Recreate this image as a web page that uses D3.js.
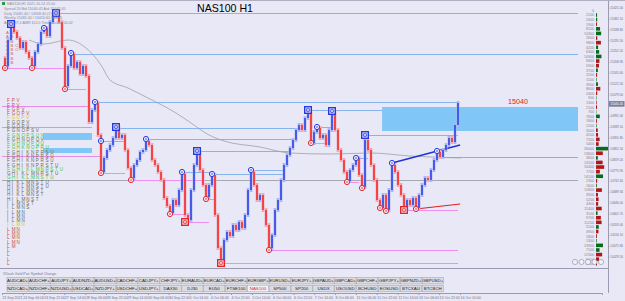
<!DOCTYPE html>
<html>
<head>
<meta charset="utf-8">
<script src="https://cdnjs.cloudflare.com/ajax/libs/d3/7.8.5/d3.min.js"></script>
<style>
    body { margin: 0; background: #e8e8f6; }
    #chart { width: 625px; height: 301px; }
    svg text { font-family: "Liberation Sans", Arial, sans-serif; }
</style>
</head>
<body>
<div id="chart"></div>
<script>
// ---- data (hourly closes) ----
const closes = [
    15224,15192,15296,15364,15328,15304,15264,15288,15248,15224,
    15192,15248,15280,15328,15344,15312,15368,15392,15412,15368,
    15264,15112,15192,15240,15184,15208,15160,15192,15152,14968,
    15016,15044,14916,14768,14824,14856,14876,14904,14944,14904,
    14916,14856,14784,14744,14796,14816,14848,14856,14892,14876,
    14816,14796,14768,14736,14664,14632,14604,14656,14636,14696,
    14760,14596,14576,14696,14796,14848,14776,14716,14668,14716,
    14756,14596,14464,14416,14496,14528,14512,14556,14536,14568,
    14544,14596,14696,14768,14716,14656,14676,14616,14556,14464,
    14516,14616,14656,14736,14796,14836,14864,14896,14936,14956,
    14936,14984,15012,14884,14928,14944,14904,14916,14876,14936,
    15008,14936,14856,14816,14768,14732,14776,14796,14824,14756,
    14708,14896,14856,14796,14736,14656,14624,14676,14616,14696,
    14796,14768,14716,14676,14620,14656,14636,14664,14624,14676,
    14716,14744,14736,14776,14816,14848,14828,14856,14876,14904,
    14888,14956,15044
];

// swing markers [bar, price]
const highBoxes = [[3,15360],[18,15404],[38,14948],[65,14852],[102,15016],[110,15012],[121,14916]];
const highDots = [[14,15344],[23,15244],[31,15048],[33,14892],[48,14900],[60,14768],[70,14760],[83,14776],[105,14948],[118,14824],[130,14804],[145,14852]];
const lowDots = [[1,15184],[10,15184],[21,15100],[33,14764],[43,14736],[56,14600],[68,14660],[89,14456],[103,14884],[115,14728],[120,14704],[126,14624],[128,14612],[138,14620]];
const lowBoxes = [[61,14568],[73,14404],[134,14616]];

// level lines [fromBar, toBar, price]
const resistLines = [[18,192,15404],[23,192,15240],[31,152,15048],[38,100,14944],[33,41,14892],[48,97,14900],[65,96,14852],[60,70,14768],[70,94,14760],[83,94,14776],[102,127,15016],[105,110,14948],[121,152,14916],[118,122,14824]];
const supportLines = [[1,21,15184],[21,28,15100],[33,41,14764],[43,68,14736],[56,61,14600],[61,69,14568],[68,71,14660],[73,152,14404],[89,152,14456],[103,109,14884],[115,119,14728],[134,152,14616]];
const tpoLines = [[0,29,15032],[0,30,14948],[0,33,14832]];
const grayLines = [[0,192,14736],[146,192,14828]];
const trendUp = [[130,14804],[152.7,14876]];
const trendDown = [[138,14620],[152.7,14640]];
// zones [fromBar, toBar, top, bottom]
const zones = [[126.7,192,15028,14932],[13.7,30,14924,14896],[13.7,30,14864,14844]];

// moving average
const maBars = [9,14,22,28,33,36,42,48,52,58,63,69,74,86,96,109,123,136,153];
const maValues = [15296,15280,15296,15264,15196,15136,15104,15068,15044,15004,14964,14916,14892,14868,14844,14840,14844,14832,14824];

// TPO profile rows (top to bottom) and their colour class
const tpoRows = ["F P V","F P V","F G P V","F G O P V","F G O P V","F G O P V","F G O P V","F G N O P S V",
    "F G N O P S U V","F G H N O P Q V","F G H N O P Q U","F G H K N O P R U","F G H I K N P R S U","F G H I K N P R S U",
    "F G H I K N P R S U","F G H I K N P R S T U","F G H I K L M N R S T U","G H I K L M N R S T U","G H I K L M N S T U",
    "H I K L M N S T U","H I K L M N S T U","H I K L M N S T","H I K L M N S T","H I L M N S T","I L M N S T","I L M N S",
    "I L M N","I L M N","I L M N","I L M N","L M N","L M N","L M N","L M N","L M","L","L","L","L"];
const tpoKinds = ["r","r","r","r","y","d","d","d","g","d","g","g","d","d","d","d","g","d","g","d","d","d","d","d","d","d",
    "d","d","d","y","r","r","r","r","r","r","r","r","r"];
const oldTpoRows = ["A B","A B","A B","A B C","A B C","A B","A B","A B","A"];

// volume profile (right side)
const volValues = [0,2100,2400,1900,8100,10300,2600,9800,4200,6300,10900,6800,5900,3700,2200,1100,3900,8600,2400,900,
    1300,2100,700,7600,1800,1200,3500,4100,7200,5400,26000,13600,3600,13200,16400,7700,14100,2300,1600,11800,
    3900,5200,4300,11400,3100,9700,11200,5500,4900,1800,1300,13900,7100,12300,6100,2000];
const volSide = ["b","b","b","s","b","b","s","s","b","b","b","s","s","b","s","b","b","s","s","b",
    "s","s","b","b","s","b","s","s","s","s","b","s","b","s","s","s","b","s","b","s",
    "s","s","s","s","b","s","s","b","s","s","b","b","b","s","s","s"];

// price axis
const priceTicks = [15425.4,15382.1,15338.8,15295.5,15252.2,15208.9,15165.6,15122.3,15079.0,14992.4,14949.1,14905.8,
    14862.5,14819.2,14775.9,14732.6,14689.3,14646.0,14602.7,14559.4,14516.1,14472.8,14429.5];
const lastPrice = 15040.45;

// time axis
const dateBars = [0,6.9,13.9,20.8,27.8,34.7,41.6,48.6,55.5,62.5,69.4,76.3,83.3,90.2,97.2,104.1,111,118,124.9,131.9,138.8,145.7,152.7];
const dateLabels = ["21 Sep 2021","24 Sep 06:00","24 Sep 22:00","27 Sep 14:00","28 Sep 06:00","28 Sep 22:00","29 Sep 14:00",
    "30 Sep 06:00","30 Sep 22:00","1 Oct 14:00","4 Oct 06:00","4 Oct 22:00","5 Oct 14:00","6 Oct 06:00","6 Oct 22:00",
    "7 Oct 14:00","8 Oct 06:00","11 Oct 06:00","11 Oct 22:00","12 Oct 14:00","13 Oct 06:00","13 Oct 22:00","14 Oct 14:00"];

// symbol buttons
const symbolsTop = ["AUDCAD+","AUDCHF+","AUDJPY+","AUDNZD+","AUDUSD+","CADCHF+","CADJPY+","CHFJPY+","EURAUD+","EURCAD+",
    "EURCHF+","EURGBP+","EURUSD+","EURJPY+","GBPAUD+","GBPCAD+","GBPCHF+","GBPJPY+","GBPNZD+","GBPUSD+"];
const symbolsBottom = ["NZDCAD+","NZDCHF+","NZDUSD+","USDCAD+","NZDJPY+","USDCHF+","USDJPY+","DAX30","DJ30","EU50",
    "FTSE100","NAS100","SP500","SP200","USDX","USOUSD","BCHUSD","EOSUSD","BTCXAU","BTCBCH"];
const activeSymbol = "NAS100";

const infoLines = ["NAS100,H1  2021.10.14 15:00","Spread 20  Bid 15040.45  Ask 15042.45","Daily 15081.40 / 14908.40  (173.0)",
    "Weekly 15081.40 / 14416.60  (664.8)","ADR 187.4  AWR 612.0  Time to close 00:42"];

/* * * * * * * * * * * * * *
*          PriceVis        *
* * * * * * * * * * * * * */

class PriceVis {

    constructor(parentElement) {
        this.parentElement = parentElement;
        this.initVis();
    }

    initVis() {
        let vis = this;

        vis.width = 625;
        vis.height = 301;
        vis.axisX = 608;

        vis.svg = d3.select("#" + vis.parentElement).append("svg")
            .attr("width", vis.width)
            .attr("height", vis.height);

        vis.svg.append("rect")
            .attr("width", vis.width)
            .attr("height", vis.height)
            .attr("fill", "#e8e8f6");

        vis.x = d3.scaleLinear().domain([0, 200]).range([2, 602]);
        vis.y = d3.scaleLinear().domain([14400, 15456]).range([264, 0]);

        vis.plot = vis.svg.append("g");

        vis.drawLevels();
        vis.drawProfile();
        vis.drawCandles();
        vis.drawMarkers();
        vis.drawVolume();
        vis.drawAxes();
        vis.drawPanel();
        vis.drawTexts();
    }

    drawLevels() {
        let vis = this;

        vis.plot.selectAll(".zone")
            .data(zones)
            .enter().append("rect")
            .attr("x", d => vis.x(d[0]))
            .attr("y", d => vis.y(d[2]))
            .attr("width", d => vis.x(d[1]) - vis.x(d[0]))
            .attr("height", d => vis.y(d[3]) - vis.y(d[2]))
            .attr("fill", "#80c6f6");

        let hline = (data, color, width) => {
            vis.plot.append("g").selectAll("line")
                .data(data)
                .enter().append("line")
                .attr("x1", d => vis.x(d[0]))
                .attr("x2", d => vis.x(d[1]))
                .attr("y1", d => Math.round(vis.y(d[2])) + 0.5)
                .attr("y2", d => Math.round(vis.y(d[2])) + 0.5)
                .attr("stroke", color)
                .attr("stroke-width", width);
        };
        hline(grayLines, "#a8a8b0", 1);
        hline(tpoLines, "#e58ce5", 1);
        hline(resistLines, "#86b4ee", 1);
        hline(supportLines, "#ee8ef0", 1);

        let ma = d3.line().x((d, i) => vis.x(d)).y((d, i) => vis.y(maValues[i])).curve(d3.curveMonotoneX);
        vis.plot.append("path")
            .attr("d", ma(maBars))
            .attr("fill", "none")
            .attr("stroke", "#a0a0a8")
            .attr("stroke-width", 0.8);

        let tl = d3.line().x(d => vis.x(d[0])).y(d => vis.y(d[1]));
        vis.plot.append("path").attr("d", tl(trendUp))
            .attr("stroke", "#1f30d8").attr("stroke-width", 1.3).attr("fill", "none");
        vis.plot.append("path").attr("d", tl(trendDown))
            .attr("stroke", "#e02020").attr("stroke-width", 1.1).attr("fill", "none");
    }

    drawProfile() {
        let vis = this;
        let colors = {r: "#c8504a", y: "#d4d400", g: "#38c838", d: "#6a6a55"};

        vis.rowY = d3.scaleBand().domain(d3.range(tpoRows.length)).range([98, 265]);

        tpoRows.forEach((row, r) => {
            row.split(" ").forEach((ch, j) => {
                vis.plot.append("text")
                    .attr("x", 7 + j * 4.8)
                    .attr("y", vis.rowY(r) + vis.rowY.bandwidth())
                    .attr("font-size", 4.6)
                    .attr("fill", colors[tpoKinds[r]])
                    .text(ch);
            });
        });

        let oldY = d3.scaleBand().domain(d3.range(oldTpoRows.length)).range([30, 68]);
        oldTpoRows.forEach((row, r) => {
            row.split(" ").forEach((ch, j) => {
                vis.plot.append("text")
                    .attr("x", 6 + j * 4.6)
                    .attr("y", oldY(r) + oldY.bandwidth())
                    .attr("font-size", 4.2)
                    .attr("fill", "#c86060")
                    .text(ch);
            });
        });
    }

    drawCandles() {
        let vis = this;
        let bars = closes.slice(1).map((c, i) => ({i: i + 1, o: closes[i], c: c}));

        let g = vis.plot.append("g");
        g.selectAll(".halo")
            .data(bars)
            .enter().append("rect")
            .attr("x", d => vis.x(d.i) - 1.4)
            .attr("width", 2.8)
            .attr("y", d => vis.y(Math.max(d.o, d.c)) - 2)
            .attr("height", d => Math.abs(vis.y(d.o) - vis.y(d.c)) + 4)
            .attr("fill", d => d.c >= d.o ? "#a9b8f0" : "#f3a9b2");

        g.selectAll(".body")
            .data(bars)
            .enter().append("rect")
            .attr("x", d => vis.x(d.i) - 0.7)
            .attr("width", 1.4)
            .attr("y", d => vis.y(Math.max(d.o, d.c)))
            .attr("height", d => Math.max(1, Math.abs(vis.y(d.o) - vis.y(d.c))))
            .attr("fill", d => d.c >= d.o ? "#1e33e6" : "#f21a1a");
    }

    drawMarkers() {
        let vis = this;

        let boxes = (data, color) => {
            let m = vis.plot.append("g").selectAll("g")
                .data(data)
                .enter().append("g")
                .attr("transform", d => "translate(" + vis.x(d[0]) + "," + vis.y(d[1]) + ")");
            m.append("rect").attr("x", -4).attr("y", -4).attr("width", 8).attr("height", 8)
                .attr("fill", color);
            m.append("rect").attr("x", -2.6).attr("y", -2.6).attr("width", 5.2).attr("height", 5.2)
                .attr("fill", "#f0f0fa");
            m.append("circle").attr("r", 1.8).attr("fill", "none").attr("stroke", color).attr("stroke-width", 0.8);
            m.append("circle").attr("r", 0.6).attr("fill", color);
        };
        let dots = (data, color) => {
            let m = vis.plot.append("g").selectAll("g")
                .data(data)
                .enter().append("g")
                .attr("transform", d => "translate(" + vis.x(d[0]) + "," + vis.y(d[1]) + ")");
            m.append("circle").attr("r", 2.6).attr("fill", "#f0f0fa")
                .attr("stroke", color).attr("stroke-width", 1);
            m.append("circle").attr("r", 0.8).attr("fill", color);
        };

        boxes(highBoxes, "#2638e0");
        boxes(lowBoxes, "#e42428");
        dots(highDots, "#2638e0");
        dots(lowDots, "#e42428");
    }

    drawVolume() {
        let vis = this;

        let rows = d3.scaleBand().domain(d3.range(volValues.length)).range([8, 266]);
        let len = d3.scaleLinear().domain([0, 26000]).range([0, 13]);

        let g = vis.svg.append("g");
        g.selectAll("rect")
            .data(volValues)
            .enter().append("rect")
            .attr("x", 596)
            .attr("y", (d, i) => rows(i) + 0.6)
            .attr("width", d => len(d))
            .attr("height", rows.bandwidth() - 1)
            .attr("fill", (d, i) => volSide[i] === "b" ? "#0b6a1a" : "#b01818");

        g.selectAll("text")
            .data(volValues)
            .enter().append("text")
            .attr("x", 594)
            .attr("y", (d, i) => rows(i) + rows.bandwidth() - 0.8)
            .attr("text-anchor", "end")
            .attr("font-size", 3.6)
            .attr("fill", "#85859a")
            .text(d => d);
    }

    drawAxes() {
        let vis = this;

        // frame
        vis.svg.append("line")
            .attr("x1", vis.axisX + 0.5).attr("x2", vis.axisX + 0.5)
            .attr("y1", 0).attr("y2", 293)
            .attr("stroke", "#9a9ab0");
        vis.svg.append("line")
            .attr("x1", 0).attr("x2", vis.width)
            .attr("y1", 0.5).attr("y2", 0.5)
            .attr("stroke", "#b0b0c4");

        let yAxis = d3.axisRight(vis.y)
            .tickValues(priceTicks)
            .tickFormat(d3.format(".2f"))
            .tickSize(1.5);
        let ya = vis.svg.append("g")
            .attr("transform", "translate(" + vis.axisX + ",0)")
            .call(yAxis);
        ya.select(".domain").remove();
        ya.selectAll("line").attr("stroke", "#9a9ab0");
        ya.selectAll("text").attr("font-size", 3.1).attr("fill", "#70708a").attr("x", 2.2);

        vis.svg.append("rect")
            .attr("x", vis.axisX + 1)
            .attr("y", vis.y(lastPrice) - 2.8)
            .attr("width", 15.5)
            .attr("height", 5.6)
            .attr("fill", "#7e7e98");
        vis.svg.append("text")
            .attr("x", vis.axisX + 2.2)
            .attr("y", vis.y(lastPrice) + 1.2)
            .attr("font-size", 3.1)
            .attr("fill", "white")
            .text(lastPrice.toFixed(2));

        let xAxis = d3.axisBottom(vis.x)
            .tickValues(dateBars)
            .tickFormat((d, i) => dateLabels[i])
            .tickSize(2);
        let xa = vis.svg.append("g")
            .attr("transform", "translate(0,293)")
            .call(xAxis);
        xa.select(".domain").attr("stroke", "#9a9ab0");
        xa.selectAll("line").attr("stroke", "#9a9ab0");
        xa.selectAll("text")
            .attr("font-size", 3.5)
            .attr("fill", "#70708a")
            .attr("text-anchor", "start")
            .attr("y", 4);
    }

    drawPanel() {
        let vis = this;

        vis.svg.append("line")
            .attr("x1", 0).attr("x2", vis.axisX)
            .attr("y1", 268.5).attr("y2", 268.5)
            .attr("stroke", "#9a9ab0");
        vis.svg.append("text")
            .attr("x", 3).attr("y", 274.5)
            .attr("font-size", 3.6)
            .attr("fill", "#7a7a90")
            .text("VDash Gold Pair Symbol Change");

        let drawRow = (names, top) => {
            let b = vis.svg.append("g").selectAll("g")
                .data(names)
                .enter().append("g")
                .attr("transform", (d, i) => "translate(" + (7 + i * 21.85) + "," + top + ")");
            b.append("rect")
                .attr("width", 21.2).attr("height", 6.6)
                .attr("fill", d => d === activeSymbol ? "#f2f2f2" : "#dcdce0")
                .attr("stroke", "#a0a0a8").attr("stroke-width", 0.5);
            b.append("text")
                .attr("x", 10.6).attr("y", 5)
                .attr("text-anchor", "middle")
                .attr("font-size", 4.4)
                .attr("fill", d => d === activeSymbol ? "#e02020" : "#202020")
                .text(d => d);
        };
        drawRow(symbolsTop, 277.3);
        drawRow(symbolsBottom, 285.2);

        // chart zoom buttons
        vis.svg.append("g").selectAll("circle")
            .data(["-", "+", "R", "S", "T"])
            .enter().append("circle")
            .attr("cx", (d, i) => 575 + i * 6.5)
            .attr("cy", 262)
            .attr("r", 2.6)
            .attr("fill", "#f0f0f8")
            .attr("stroke", "#8a8aa0")
            .attr("stroke-width", 0.6);
    }

    drawTexts() {
        let vis = this;

        vis.svg.append("text")
            .attr("x", 197).attr("y", 12)
            .attr("font-family", "DejaVu Sans")
            .attr("font-size", 10.6)
            .attr("fill", "#000")
            .text("NAS100 H1");

        vis.svg.append("text")
            .attr("x", 508).attr("y", 104)
            .attr("font-size", 7.2)
            .attr("fill", "#e02020")
            .text("15040");

        vis.svg.append("rect")
            .attr("x", 2).attr("y", 2).attr("width", 3).attr("height", 3)
            .attr("fill", "#2a9a3a");
        vis.svg.append("g").selectAll("text")
            .data(infoLines)
            .enter().append("text")
            .attr("x", (d, i) => i === 0 ? 7 : 4)
            .attr("y", (d, i) => 5 + i * 4.8)
            .attr("font-size", 3.6)
            .attr("fill", "#8a8a98")
            .text(d => d);
    }
}

new PriceVis("chart");
</script>
</body>
</html>
